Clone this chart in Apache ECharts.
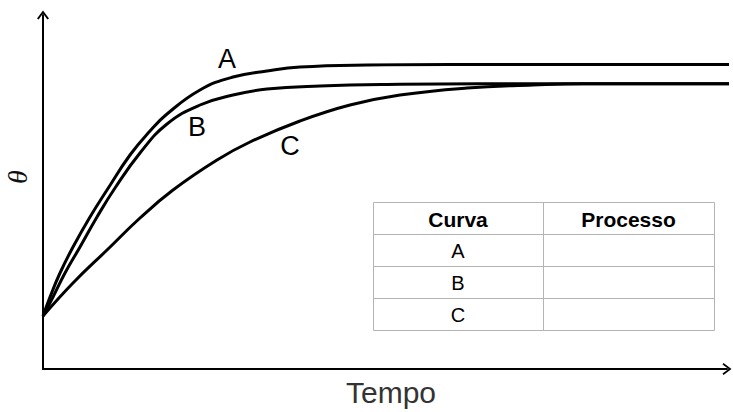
<!DOCTYPE html>
<html>
<head>
<meta charset="utf-8">
<script src="https://cdn.jsdelivr.net/npm/echarts@6/dist/echarts.min.js"></script>
<style>
html,body{margin:0;padding:0;background:#fff;}
#chart{width:733px;height:412px;}
</style>
</head>
<body>
<div id="chart"></div>
<script>
// Curve data: [tempo, theta] in arbitrary units
const curveNames = ['A', 'B', 'C'];
const curveA = [[0,53],[7,72],[17,96],[30,122],[47,152],[64,179],[87,214],[107,238],[124,255],[157,279],[190,292],[224,298],[257,302],[324,304],[407,304.5],[690,304.5]];
const curveB = [[0,53],[10,72],[22,96],[37,122],[54,152],[72,181],[97,216],[124,245],[157,264],[190,274],[224,280],[277,283],[357,284.7],[437,285.3],[690,285.3]];
const curveC = [[0,53],[30,86],[64,119],[97,151],[130,179],[174,209],[207,227],[257,248],[307,264],[357,274],[424,281],[490,284],[540,285.3],[690,285.3]];
const xAxisName = 'Tempo';
const yAxisName = 'θ';
const tableHeader = ['Curva', 'Processo'];
const tableRows = ['A', 'B', 'C'];

const FONT = '"Liberation Sans", Arial, Helvetica, sans-serif';
const chart = echarts.init(document.getElementById('chart'), null, {renderer: 'svg'});

const arrowPath = 'path://M0,8 L6,0 L12,8 L10.4,9 L6,2.9 L1.6,9 Z';

const curves = [curveA, curveB, curveC];
const series = curves.map((d, i) => ({
  name: curveNames[i],
  type: 'line',
  data: d,
  smooth: 0.45,
  clip: false,
  showSymbol: false,
  symbol: 'none',
  silent: true,
  lineStyle: {color: '#000', width: 3},
  z: 3
}));

// curve labels (pixel placement of text)
const labelPos = [[227, 59], [197, 127], [290, 146]];
const graphics = curveNames.map((n, i) => ({
  type: 'text', x: labelPos[i][0], y: labelPos[i][1],
  style: {text: n, font: '27px ' + FONT, fill: '#000', align: 'center', verticalAlign: 'middle'}
}));

// theta label
graphics.push({
  type: 'text', x: 17, y: 177, rotation: Math.PI / 2,
  style: {text: yAxisName, font: 'italic 28px "Liberation Serif", "DejaVu Serif", serif', fill: '#111', align: 'center', verticalAlign: 'middle'}
});

// table
const colX = [373, 543, 714];
const rowY = [202, 234, 266, 298, 330];
const gridColor = '#b4b4b4';
graphics.push({type: 'rect', shape: {x: colX[0] + 0.5, y: rowY[0] + 0.5, width: colX[2] - colX[0], height: rowY[4] - rowY[0]},
  style: {fill: '#fff', stroke: gridColor, lineWidth: 1}, z: 10});
for (let r = 1; r < rowY.length - 1; r++) {
  graphics.push({type: 'line', shape: {x1: colX[0], y1: rowY[r] + 0.5, x2: colX[2], y2: rowY[r] + 0.5}, style: {stroke: gridColor, lineWidth: 1}, z: 11});
}
graphics.push({type: 'line', shape: {x1: colX[1] + 0.5, y1: rowY[0], x2: colX[1] + 0.5, y2: rowY[4]}, style: {stroke: gridColor, lineWidth: 1}, z: 11});
tableHeader.forEach((h, c) => {
  graphics.push({type: 'text', x: (colX[c] + colX[c + 1]) / 2, y: (rowY[0] + rowY[1]) / 2 + 1,
    style: {text: h, font: 'bold 21px ' + FONT, fill: '#000', align: 'center', verticalAlign: 'middle'}, z: 12});
});
tableRows.forEach((t, r) => {
  graphics.push({type: 'text', x: (colX[0] + colX[1]) / 2, y: (rowY[r + 1] + rowY[r + 2]) / 2 + 1,
    style: {text: t, font: '20px ' + FONT, fill: '#000', align: 'center', verticalAlign: 'middle'}, z: 12});
});

chart.setOption({
  animation: false,
  backgroundColor: '#fff',
  grid: {left: 43, right: 6, top: 15, bottom: 43},
  xAxis: {
    type: 'value', min: 0, max: 684,
    name: xAxisName, nameLocation: 'middle', nameGap: 8,
    nameTextStyle: {fontFamily: FONT, fontSize: 30, color: '#333', padding: [0, 0, 0, 12]},
    axisLine: {show: true, symbol: ['none', arrowPath], symbolSize: [12, 9], lineStyle: {color: '#000', width: 2}},
    axisTick: {show: false}, axisLabel: {show: false}, splitLine: {show: false}
  },
  yAxis: {
    type: 'value', min: 0, max: 354,
    axisLine: {show: true, symbol: ['none', arrowPath], symbolSize: [12, 9], lineStyle: {color: '#000', width: 2}},
    axisTick: {show: false}, axisLabel: {show: false}, splitLine: {show: false}
  },
  series: series,
  graphic: graphics
});
</script>
</body>
</html>
